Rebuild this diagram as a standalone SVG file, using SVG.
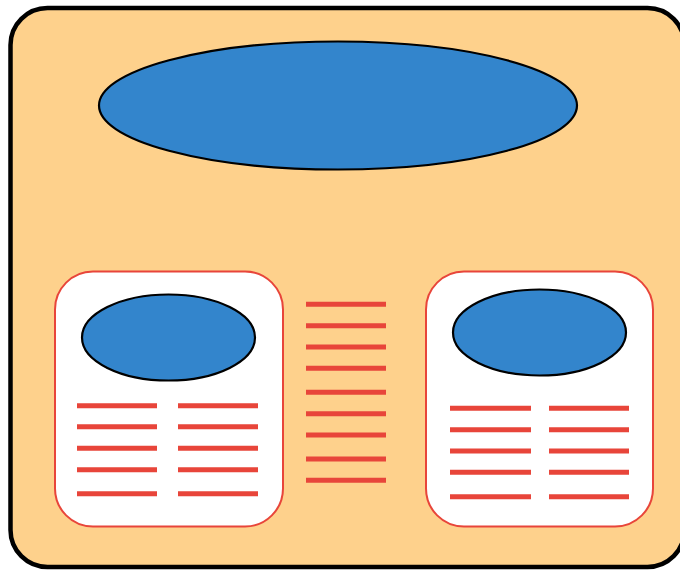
<svg xmlns="http://www.w3.org/2000/svg" width="680" height="570" viewBox="0 0 680 570">
<style>
.bg{fill:#FED18C;stroke:#000;stroke-width:4.5}
.ell{fill:#3385CC;stroke:#000;stroke-width:2.2}
.card{fill:#fff;stroke:#E8453A;stroke-width:2}
.ln{stroke:#E8453A;stroke-width:5;fill:none}
</style>
<g id="frame"><rect class="bg" x="10.5" y="8" width="674" height="559" rx="37"/></g>
<g id="top-ellipse"><ellipse class="ell" cx="338" cy="105.5" rx="239" ry="64"/></g>
<g id="left-card">
<rect class="card" x="55" y="271.5" width="228" height="255" rx="38"/>
<ellipse class="ell" cx="168.5" cy="337.5" rx="86.5" ry="43"/>
<path class="ln" d="M77 405.7H157M77 426.7H157M77 448.3H157M77 469.7H157M77 493.7H157M178 405.7H258M178 426.7H258M178 448.3H258M178 469.7H258M178 493.7H258"/>
</g>
<g id="middle-lines">
<path class="ln" d="M306 304.3H386M306 325.7H386M306 347H386M306 368.3H386M306 392.3H386M306 413.7H386M306 435H386M306 459H386M306 480.3H386"/>
</g>
<g id="right-card">
<rect class="card" x="426" y="271.5" width="227" height="255" rx="38"/>
<ellipse class="ell" cx="539.5" cy="332.5" rx="86.5" ry="43"/>
<path class="ln" d="M450 408.3H531M450 429.7H531M450 451H531M450 472.3H531M450 496.7H531M549 408.3H629M549 429.7H629M549 451H629M549 472.3H629M549 496.7H629"/>
</g>
</svg>
